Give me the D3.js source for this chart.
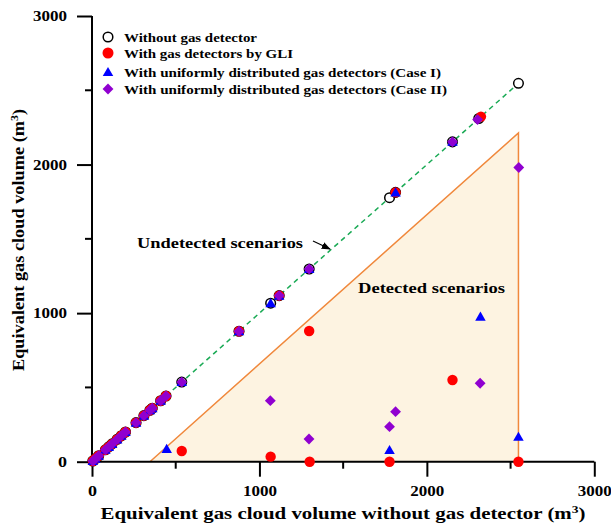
<!DOCTYPE html>
<html>
<head>
<meta charset="utf-8">
<script src="https://cdn.jsdelivr.net/npm/d3@7"></script>
<style>
  body { margin: 0; background: #fff; }
  text { font-family: 'Liberation Serif', 'Times New Roman', serif; font-weight: bold; }
</style>
</head>
<body>
<div id="chart"></div>
<script>
// scenario volumes without detector (all sit on y = x)
const noDetector = [5, 20, 40, 80, 100, 120, 150, 175, 200, 263, 310, 346, 360, 410, 442, 536, 878, 1067, 1118, 1297, 1777, 1813, 2153, 2310, 2547]

// [without, with] pairs
const gli = [[5, 5], [20, 20], [40, 40], [80, 80], [100, 100], [120, 120], [150, 150], [175, 175], [200, 200], [263, 263], [310, 310], [346, 346], [360, 360], [410, 410], [442, 442], [536, 72], [878, 878], [1067, 34], [1118, 1118], [1297, 880], [1300, 0], [1777, 0], [1813, 1813], [2153, 550], [2323, 2323], [2547, 0]]
const caseI = [[5, 5], [20, 20], [40, 40], [80, 80], [100, 100], [120, 120], [150, 150], [175, 175], [200, 200], [263, 263], [310, 310], [346, 346], [360, 360], [410, 410], [446, 86], [536, 536], [878, 878], [1067, 1067], [1118, 1118], [1297, 1297], [1777, 79], [1813, 1813], [2153, 2153], [2320, 976], [2547, 168]]
const caseII = [[5, 5], [20, 20], [40, 40], [80, 80], [100, 100], [120, 120], [150, 150], [175, 175], [200, 200], [263, 263], [310, 310], [346, 346], [360, 360], [410, 410], [442, 442], [536, 536], [878, 878], [1065, 411], [1118, 1118], [1297, 1297], [1296, 153], [1777, 236], [1813, 337], [2153, 2153], [2303, 2303], [2318, 528], [2549, 1980]]

const detectedZone = [[346, 0], [2547, 2213], [2547, 0]]
const diagonalEnd = 2547

const legendLabels = ['Without gas detector', 'With gas detectors by GLI', 'With uniformly distributed gas detectors (Case I)', 'With uniformly distributed gas detectors (Case II)']
const majorTicks = [0, 1000, 2000, 3000]
const minorTicks = [500, 1500, 2500]

const width = 611
const height = 528

const svg = d3
  .select('#chart')
  .append('svg')
  .attr('width', width)
  .attr('height', height)

const x = d3.scaleLinear().domain([0, 3000]).range([92, 594.3])
const y = d3.scaleLinear().domain([0, 3000]).range([461.7, 16])

// detected region
svg
  .append('path')
  .datum(detectedZone)
  .attr('d', d3.line().x(d => x(d[0])).y(d => y(d[1])))
  .attr('fill', '#fdf3e1')
  .attr('stroke', 'none')

svg
  .append('path')
  .datum(detectedZone)
  .attr('d', d3.line().x(d => x(d[0])).y(d => y(d[1])))
  .attr('fill', 'none')
  .attr('stroke', '#f0883c')
  .attr('stroke-width', 1.5)

// y = x reference
svg
  .append('line')
  .attr('x1', x(0))
  .attr('y1', y(0))
  .attr('x2', x(diagonalEnd))
  .attr('y2', y(diagonalEnd))
  .attr('stroke', '#1aaa55')
  .attr('stroke-width', 1.5)
  .attr('stroke-dasharray', '5,4')

// axes
const xAxis = d3.axisBottom(x).tickValues(majorTicks).tickSize(15).tickFormat(d3.format('d'))
const yAxis = d3.axisLeft(y).tickValues(majorTicks).tickSize(15).tickFormat(d3.format('d'))

const gx = svg.append('g').attr('transform', `translate(0,${y(0)})`).call(xAxis)
gx.append('g')
  .selectAll('line')
  .data(minorTicks)
  .enter()
  .append('line')
  .attr('x1', d => x(d))
  .attr('x2', d => x(d))
  .attr('y1', 0)
  .attr('y2', 7)
  .attr('stroke', '#000')
  .attr('stroke-width', 2)

const gy = svg.append('g').attr('transform', `translate(${x(0)},0)`).call(yAxis)
gy.append('g')
  .selectAll('line')
  .data(minorTicks)
  .enter()
  .append('line')
  .attr('x1', 0)
  .attr('x2', -7)
  .attr('y1', d => y(d))
  .attr('y2', d => y(d))
  .attr('stroke', '#000')
  .attr('stroke-width', 2)

for (const g of [gx, gy]) {
  g.select('.domain').attr('stroke', '#000').attr('stroke-width', 2)
  g.selectAll('.tick line').attr('stroke', '#000').attr('stroke-width', 2)
  g.selectAll('.tick text')
    .attr('font-size', 14)
    .attr('fill', '#000')
    .attr('font-family', 'Liberation Serif, serif')
    .attr('textLength', d => (d === 0 ? 9 : 34))
    .attr('lengthAdjust', 'spacingAndGlyphs')
}
gx.select('.domain').attr('d', `M${x(0)},0H${x(3000)}`)
gy.select('.domain').attr('d', `M0,${y(0)}V${y(3000)}`)
gx.selectAll('.tick text').attr('y', 24)
gy.selectAll('.tick text').attr('x', -25)

// axis titles
svg
  .append('text')
  .attr('x', 343)
  .attr('y', 519)
  .attr('text-anchor', 'middle')
  .attr('font-size', 17)
  .attr('textLength', 485)
  .attr('lengthAdjust', 'spacingAndGlyphs')
  .html('Equivalent gas cloud volume without gas detector (m<tspan dy="-6" font-size="11">3</tspan><tspan dy="6">)</tspan>')

svg
  .append('text')
  .attr('transform', 'translate(24,240) rotate(-90)')
  .attr('text-anchor', 'middle')
  .attr('font-size', 17)
  .attr('textLength', 262)
  .attr('lengthAdjust', 'spacingAndGlyphs')
  .html('Equivalent gas cloud volume (m<tspan dy="-6" font-size="11">3</tspan><tspan dy="6">)</tspan>')

// annotations
svg
  .append('text')
  .attr('x', 137)
  .attr('y', 248)
  .attr('font-size', 15)
  .attr('textLength', 166)
  .attr('lengthAdjust', 'spacingAndGlyphs')
  .text('Undetected scenarios')

svg
  .append('text')
  .attr('x', 358)
  .attr('y', 293)
  .attr('font-size', 15)
  .attr('textLength', 147)
  .attr('lengthAdjust', 'spacingAndGlyphs')
  .text('Detected scenarios')

svg
  .append('defs')
  .append('marker')
  .attr('id', 'arrow')
  .attr('viewBox', '0 0 10 10')
  .attr('refX', 9)
  .attr('refY', 5)
  .attr('markerWidth', 7)
  .attr('markerHeight', 7)
  .attr('orient', 'auto')
  .append('path')
  .attr('d', 'M0,1L10,5L0,9Z')
  .attr('fill', '#000')

svg
  .append('line')
  .attr('x1', 313)
  .attr('y1', 241)
  .attr('x2', 330)
  .attr('y2', 249)
  .attr('stroke', '#000')
  .attr('stroke-width', 1.3)
  .attr('marker-end', 'url(#arrow)')

// markers
const diamond = d3.symbol().type(d3.symbolDiamond2).size(75)
const triangle = d3.symbol().type(d3.symbolTriangle).size(48)

svg
  .append('g')
  .selectAll('circle')
  .data(noDetector)
  .enter()
  .append('circle')
  .attr('cx', d => x(d))
  .attr('cy', d => y(d))
  .attr('r', 4.8)
  .attr('fill', '#fff')
  .attr('stroke', '#000')
  .attr('stroke-width', 1.5)

svg
  .append('g')
  .selectAll('circle')
  .data(gli)
  .enter()
  .append('circle')
  .attr('cx', d => x(d[0]))
  .attr('cy', d => y(d[1]))
  .attr('r', 5.2)
  .attr('fill', '#ff0000')

svg
  .append('g')
  .selectAll('path')
  .data(caseI)
  .enter()
  .append('path')
  .attr('d', triangle)
  .attr('transform', d => `translate(${x(d[0])},${y(d[1]) + 1})`)
  .attr('fill', '#0000ff')

svg
  .append('g')
  .selectAll('path')
  .data(caseII)
  .enter()
  .append('path')
  .attr('d', diamond)
  .attr('transform', d => `translate(${x(d[0])},${y(d[1])})`)
  .attr('fill', '#9000d0')

// legend
const legend = svg.append('g').attr('transform', 'translate(108,37)')
const rowY = [0, 16, 35, 52]
const rowWidth = [133, 169, 317, 323]

legend.append('circle').attr('cx', 0).attr('cy', rowY[0]).attr('r', 4.8)
  .attr('fill', '#fff').attr('stroke', '#000').attr('stroke-width', 1.5)
legend.append('circle').attr('cx', 0).attr('cy', rowY[1]).attr('r', 5.5)
  .attr('fill', '#ff0000')
legend.append('path').attr('d', triangle).attr('transform', `translate(0,${rowY[2] + 1})`)
  .attr('fill', '#0000ff')
legend.append('path').attr('d', diamond).attr('transform', `translate(0,${rowY[3]})`)
  .attr('fill', '#9000d0')

legend
  .selectAll('text')
  .data(legendLabels)
  .enter()
  .append('text')
  .attr('x', 16)
  .attr('y', (d, i) => rowY[i] + 4.5)
  .attr('font-size', 13.5)
  .attr('textLength', (d, i) => rowWidth[i])
  .attr('lengthAdjust', 'spacingAndGlyphs')
  .text(d => d)
</script>
</body>
</html>
